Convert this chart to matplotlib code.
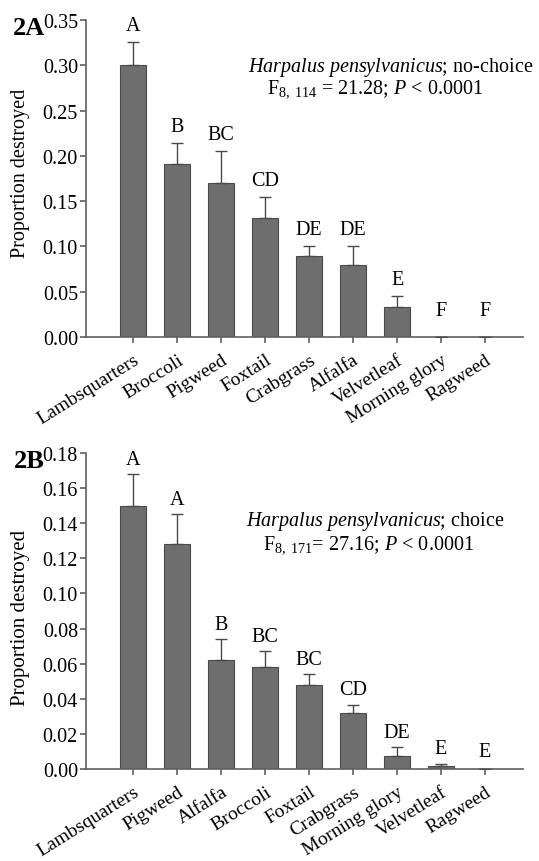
import matplotlib
matplotlib.use("Agg")
import matplotlib.pyplot as plt
import numpy as np

plt.rcParams['font.family'] = ['Liberation Serif', 'DejaVu Serif']
plt.rcParams['mathtext.fontset'] = 'custom'
plt.rcParams['mathtext.rm'] = 'Liberation Serif'
plt.rcParams['mathtext.it'] = 'Liberation Serif:italic'

# Panel A data (no-choice)
cats_a = ["Lambsquarters", "Broccoli", "Pigweed", "Foxtail", "Crabgrass",
          "Alfalfa", "Velvetleaf", "Morning glory", "Ragweed"]
vals_a = [0.300, 0.191, 0.170, 0.131, 0.089, 0.080, 0.033, 0.0, 0.0]
err_a = [0.026, 0.023, 0.035, 0.024, 0.012, 0.020, 0.012, 0.0, 0.0]
letters_a = ["A", "B", "BC", "CD", "DE", "DE", "E", "F", "F"]
yticks_a = [0.00, 0.05, 0.10, 0.15, 0.20, 0.25, 0.30, 0.35]

# Panel B data (choice)
cats_b = ["Lambsquarters", "Pigweed", "Alfalfa", "Broccoli", "Foxtail",
          "Crabgrass", "Morning glory", "Velvetleaf", "Ragweed"]
vals_b = [0.150, 0.128, 0.062, 0.058, 0.048, 0.032, 0.0074, 0.0017, 0.0]
err_b = [0.018, 0.017, 0.012, 0.009, 0.006, 0.0045, 0.005, 0.0013, 0.0]
letters_b = ["A", "A", "B", "BC", "BC", "CD", "DE", "E", "E"]
yticks_b = [0.00, 0.02, 0.04, 0.06, 0.08, 0.10, 0.12, 0.14, 0.16, 0.18]

fig = plt.figure(figsize=(5.39, 8.62), dpi=100)
axA = fig.add_axes([0.160, 0.6079, 0.810, 0.3677])
axB = fig.add_axes([0.160, 0.1067, 0.810, 0.3666])

bar_color = "#6e6e6e"
edge_color = "#4a4a4a"
axis_color = "#606060"
FS = 14.5

def draw(ax, cats, vals, errs, letters, yticks, ymax, gap, gap0, panel,
         line1, line2, t1, t2, ylab_fs, ylab_y):
    x = np.arange(len(cats))
    ax.bar(x, vals, width=0.6, color=bar_color, edgecolor=edge_color, linewidth=0.8, zorder=2)
    ax.errorbar(x, vals, yerr=[np.zeros(len(errs)), errs], fmt='none',
                ecolor=edge_color, elinewidth=1.0, capsize=4, capthick=1.0, zorder=3)
    for xi, v, e, l in zip(x, vals, errs, letters):
        g = gap0 if v == 0 else gap
        ax.annotate(l, (xi, v + e), xytext=(0, g), textcoords='offset points',
                    ha='center', va='bottom', fontsize=FS)
    ax.set_xlim(-1.07, 8.86)
    ax.set_ylim(0, ymax)
    ax.set_yticks(yticks)
    ax.set_yticklabels(["%.2f" % t for t in yticks], fontsize=FS)
    ax.set_xticks(x)
    ax.set_xticklabels(cats, rotation=32, ha='right', rotation_mode='anchor', fontsize=14)
    for s in ['top', 'right']:
        ax.spines[s].set_visible(False)
    for s in ['left', 'bottom']:
        ax.spines[s].set_color(axis_color)
        ax.spines[s].set_linewidth(1.2)
    ax.tick_params(axis='both', direction='out', color=axis_color, width=1.2, length=4)
    ax.tick_params(axis='y', pad=2)
    ax.tick_params(axis='x', pad=6)
    ax.set_ylabel("Proportion destroyed", fontsize=ylab_fs)
    ax.yaxis.set_label_coords(-0.128, ylab_y)
    ax.text(-0.094, 0.975, panel, transform=ax.transAxes, fontsize=19, fontweight='bold',
            ha='right', va='center')
    ax.text(line1[0], line1[1], t1, transform=ax.transAxes, fontsize=FS, ha='left', va='center')
    ax.text(line2[0], line2[1], t2, transform=ax.transAxes, fontsize=FS, ha='left', va='center')

draw(axA, cats_a, vals_a, err_a, letters_a, yticks_a, 0.35, 5, 12, "2A",
     (0.371, 0.852), (0.414, 0.785),
     r"$\it{Harpalus\ pensylvanicus}$; no-choice",
     r"F$_{8,\ 114}$ = 21.28; $\it{P}$ < 0.0001", 14.5, 0.52)
draw(axB, cats_b, vals_b, err_b, letters_b, yticks_b, 0.18, 4, 6, "2B",
     (0.366, 0.785), (0.405, 0.712),
     r"$\it{Harpalus\ pensylvanicus}$; choice",
     r"F$_{8,\ 171}$= 27.16; $\it{P}$ < 0.0001", 15, 0.48)

fig.savefig("out.png", dpi=100)
